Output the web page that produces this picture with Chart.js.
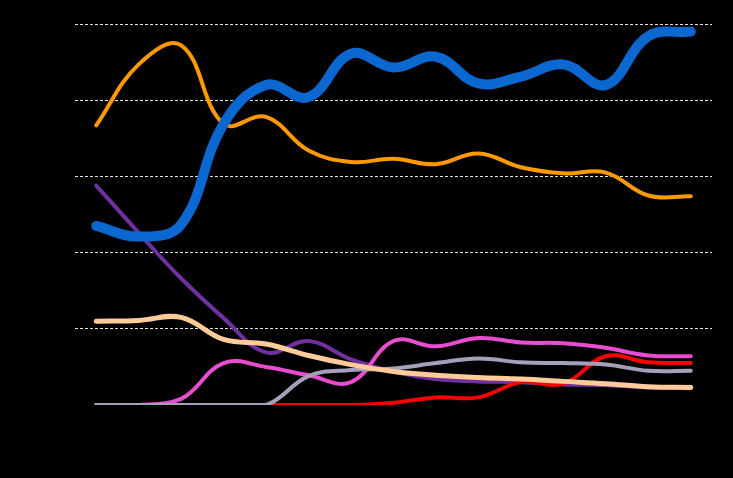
<!DOCTYPE html>
<html>
<head>
<meta charset="utf-8">
<script src="https://cdn.jsdelivr.net/npm/chart.js@4"></script>
<style>
  html, body { margin: 0; padding: 0; background: #000; }
  canvas { display: block; }
</style>
</head>
<body>
<canvas id="chart" width="733" height="478"></canvas>
<script>
// Values, one per period (15 periods)
const periods = ["2009", "2010", "2011", "2012", "2013", "2014", "2015", "2016",
                 "2017", "2018", "2019", "2020", "2021", "2022", "2023"]
const yTicks = [0, 10, 20, 30, 40, 50]

const blueSeries   = [23.5, 22.1, 23.7, 36.9, 42.0, 40.4, 46.1, 44.3, 45.7, 42.2, 43.1, 44.7, 42.0, 48.4, 49.0]
const orangeSeries = [36.7, 44.7, 47.2, 36.9, 37.8, 33.4, 31.9, 32.3, 31.6, 33.0, 31.2, 30.4, 30.5, 27.5, 27.4]
const creamSeries  = [11.0, 11.1, 11.5, 8.6, 8.0, 6.5, 5.3, 4.4, 3.9, 3.6, 3.4, 3.1, 2.8, 2.4, 2.3]
const greySeries   = [0, 0, 0, 0, 0, 3.8, 4.6, 4.8, 5.5, 6.1, 5.6, 5.5, 5.3, 4.5, 4.5]
const pinkSeries   = [0, 0, 0.8, 5.5, 5.0, 3.9, 3.0, 8.4, 7.7, 8.8, 8.2, 8.1, 7.5, 6.5, 6.4]
const redSeries    = [0, 0, 0, 0, 0, 0, 0, 0.3, 1.0, 1.0, 3.0, 2.8, 6.4, 5.6, 5.5]
const purpleSeries = [28.8, 22.6, 16.6, 11.4, 6.9, 8.4, 6.0, 4.4, 3.4, 3.1, 3.0, 2.7, 2.6, 2.3, 2.2]

const line = (label, data, color, width) => ({
  label,
  data,
  borderColor: color,
  backgroundColor: color,
  borderWidth: width,
  borderCapStyle: "round",
  borderJoinStyle: "round",
  pointRadius: 0,
  pointHoverRadius: 0,
  fill: false,
  tension: 0.4
})

// first dataset is painted last, so it sits on top
new Chart(document.getElementById("chart").getContext("2d"), {
  type: "line",
  data: {
    labels: periods,
    datasets: [
      line("Blue", blueSeries, "#0a68d0", 10),
      line("Orange", orangeSeries, "#ff9900", 4),
      line("Cream", creamSeries, "#ffcc99", 5),
      line("Grey", greySeries, "#a59fba", 4),
      line("Pink", pinkSeries, "#e84ccf", 4),
      line("Red", redSeries, "#ff0000", 4),
      line("Purple", purpleSeries, "#7030a0", 4)
    ]
  },
  options: {
    responsive: false,
    animation: false,
    layout: { padding: { left: 75, right: 21, top: 24, bottom: 65 } },
    plugins: {
      legend: { display: false },
      tooltip: { enabled: false }
    },
    scales: {
      x: {
        offset: true,
        grid: { display: false },
        border: { display: false },
        ticks: { display: false }
      },
      y: {
        min: yTicks[0],
        max: yTicks[yTicks.length - 1],
        afterBuildTicks: axis => { axis.ticks = yTicks.map(value => ({ value })) },
        border: { display: false, dash: [3, 2] },
        grid: {
          drawTicks: false,
          lineWidth: 1,
          color: ctx => (ctx.tick && ctx.tick.value > 0 ? "rgba(255,255,255,0.9)" : "rgba(0,0,0,0)")
        },
        ticks: { display: false }
      }
    }
  }
})
</script>
</body>
</html>
